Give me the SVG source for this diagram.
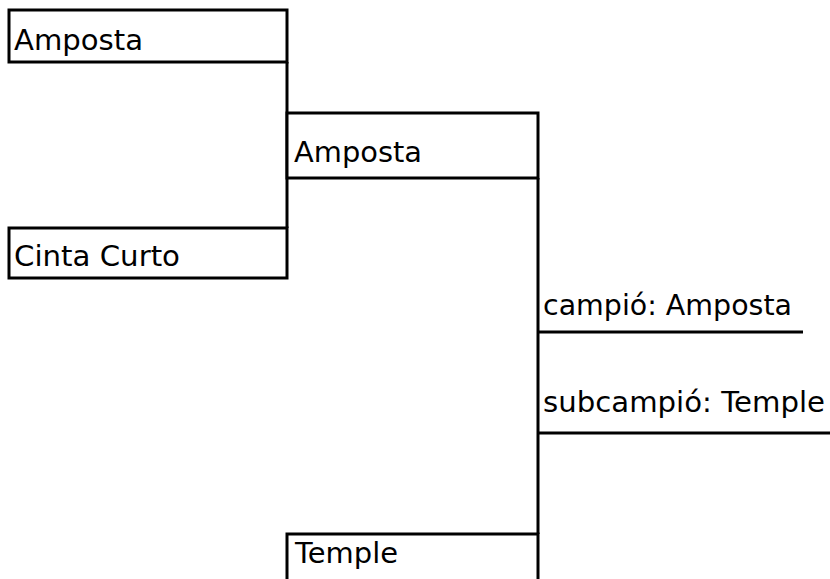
<svg xmlns="http://www.w3.org/2000/svg" width="830" height="579" viewBox="0 0 830 579">
<style>
.box{fill:#fff;stroke:#000;stroke-width:3}
.ln{stroke:#000;stroke-width:3;fill:none}
text{font-family:"DejaVu Sans","Liberation Sans",sans-serif;font-size:28px;fill:#000}
</style>
<rect width="830" height="579" fill="#fff"/>
<g id="connectors">
<line class="ln" x1="287" y1="62" x2="287" y2="228"/>
<line class="ln" x1="538" y1="178" x2="538" y2="534"/>
</g>
<g id="amposta1">
<rect class="box" x="9" y="10" width="278" height="52"/>
<text x="14" y="50" textLength="129" lengthAdjust="spacingAndGlyphs">Amposta</text>
</g>
<g id="cinta-curto">
<rect class="box" x="9" y="228" width="278" height="50"/>
<text x="14" y="266" textLength="166" lengthAdjust="spacingAndGlyphs">Cinta Curto</text>
</g>
<g id="amposta2">
<rect class="box" x="287" y="113" width="251" height="65"/>
<text x="294" y="162" textLength="128" lengthAdjust="spacingAndGlyphs">Amposta</text>
</g>
<g id="temple">
<rect class="box" x="287" y="534" width="251" height="60"/>
<text x="295" y="563" textLength="103" lengthAdjust="spacingAndGlyphs">Temple</text>
</g>
<g id="campio">
<line class="ln" x1="538" y1="332" x2="803" y2="332"/>
<text x="543" y="315" textLength="249" lengthAdjust="spacingAndGlyphs">campió: Amposta</text>
</g>
<g id="subcampio">
<line class="ln" x1="538" y1="433" x2="830" y2="433"/>
<text x="543" y="412" textLength="282" lengthAdjust="spacingAndGlyphs">subcampió: Temple</text>
</g>
</svg>
